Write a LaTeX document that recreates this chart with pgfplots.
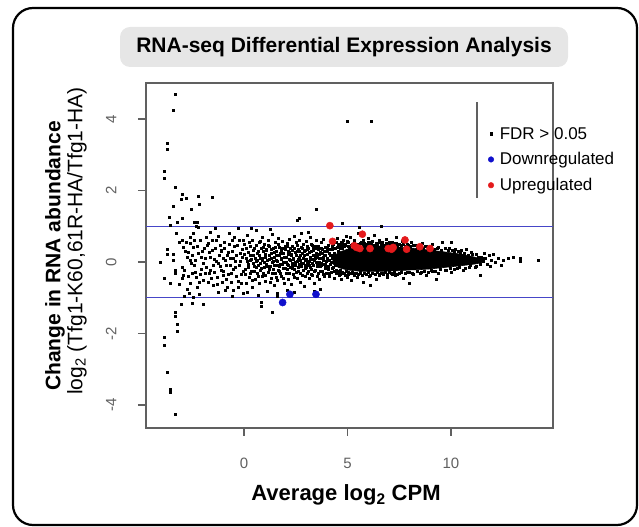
\documentclass[border=0pt]{standalone}
\usepackage{pgfplots}
\pgfplotsset{compat=1.18}
\usepackage{fontspec}
\setmainfont{Liberation Sans}
\definecolor{upred}{HTML}{E41A1C}
\definecolor{downblue}{HTML}{1010CC}
\definecolor{hline}{HTML}{4646C8}
\definecolor{axgray}{HTML}{606060}
\definecolor{titlegray}{HTML}{E6E6E6}
\begin{document}
\begin{tikzpicture}
\useasboundingbox (0,0) rectangle (639bp,527bp);
\draw[line width=2.2bp, rounded corners=20bp] (13bp,2bp) rectangle (637bp,519bp);
\node[fill=titlegray, rounded corners=10bp, minimum width=448bp, minimum height=40bp, inner sep=0pt] at (344bp,480bp) {\fontsize{21bp}{25bp}\selectfont\bfseries RNA-seq Differential Expression Analysis};
\node[rotate=90] at (55bp,271bp) {\fontsize{21bp}{25bp}\selectfont\bfseries Change in RNA abundance};
\node[rotate=90] at (77bp,286bp) {\fontsize{21bp}{25bp}\selectfont log\textsubscript{2} (Tfg1-K60,61R-HA/Tfg1-HA)};
\node at (346bp,32bp) {\fontsize{22bp}{26bp}\selectfont\bfseries Average log\textsubscript{2} CPM};
\begin{axis}[at={(146bp,99bp)}, anchor=south west, scale only axis,
  width=407bp, height=345bp,
  xmin=-4.73, xmax=14.93, ymin=-4.64, ymax=5.01,
  xtick={0,5,10}, xticklabels={0,5,10},
  ytick={-4,-2,0,2,4}, yticklabels={-4,-2,0,2,4},
  tick align=outside, tick pos=left, major tick length=8bp,
  axis line style={axgray, line width=1.3bp},
  tick style={axgray, line width=1.3bp},
  ticklabel style={font=\fontsize{15bp}{18bp}\selectfont, text=axgray},
  xticklabel style={yshift=-19bp},
  yticklabel style={xshift=-18bp, rotate=90, anchor=south},
  clip=false,
  legend style={at={(0.833,0.884)}, anchor=north west, draw=none, fill=none,
    font=\fontsize{17bp}{20bp}\selectfont, row sep=8bp, column sep=4bp},
  legend cell align=left,
]
\addlegendimage{only marks, mark=square*, mark size=1.2bp, black}
\addlegendentry{FDR > 0.05}
\addlegendimage{only marks, mark=*, mark size=2.8bp, downblue}
\addlegendentry{Downregulated}
\addlegendimage{only marks, mark=*, mark size=2.8bp, upred}
\addlegendentry{Upregulated}
% dense core of the cloud
\addplot[fill=black, draw=black, line width=0.6bp, forget plot] coordinates {
(4.3,0.15) (4.6,0.28) (5.0,0.36) (5.5,0.42) (6.0,0.44) (6.5,0.45) (7.0,0.44) (7.5,0.42) (8.0,0.40) (8.5,0.37) (9.0,0.33) (9.5,0.30) (10.0,0.26) (10.5,0.22) (11.0,0.16) (11.4,0.10) (11.6,0.05)
(11.6,0.0) (11.2,-0.05) (10.5,-0.10) (10.0,-0.13) (9.5,-0.16) (9.0,-0.19) (8.5,-0.21) (8.0,-0.22) (7.5,-0.24) (7.0,-0.25) (6.5,-0.26) (6.0,-0.26) (5.5,-0.25) (5.0,-0.22) (4.6,-0.16) (4.3,-0.05)
} -- cycle;
% FDR > 0.05 genes
\addplot[only marks, mark=square*, mark size=1.0bp, black, forget plot] coordinates {
(-3.30,4.70) (-3.41,4.25) (-3.69,3.33) (-3.69,3.16) (-3.85,2.55) (-3.85,2.34) (-3.30,2.09) (-2.96,1.90) (-3.01,1.76) (-2.80,1.78) (-2.21,1.85) (-1.51,1.81) (-2.16,1.62) (-3.41,1.56) (-2.56,1.48) (-3.61,1.25) (-2.96,1.22) (-3.20,1.11) (-3.54,1.03) (-2.40,1.11) (-2.24,1.11) (-2.32,1.00) (-2.20,0.98)
(-3.01,-1.17) (-2.50,-1.15) (-1.97,-1.17) (-2.45,-0.99) (-2.16,-0.90) (-3.30,-1.41) (-3.30,-1.50) (-3.22,-1.73) (-3.20,-1.94) (-3.85,-2.11) (-3.85,-2.32) (-3.69,-3.09) (-3.57,-3.55) (-3.57,-3.63) (-3.30,-4.25)
(0.85,-1.13) (0.85,-1.22) (1.39,-1.39) (3.48,1.48) (2.59,1.18) (2.67,1.22) (4.77,1.09) (5.57,0.97) (6.62,1.0) (5.0,3.95) (6.15,3.95)
(-4.06,0.01) (-3.69,0.36) (-3.69,0.22) (-3.44,0.22) (-3.57,-0.59) (-3.30,-0.22) (-3.30,-0.32) (-3.12,0.57) (-3.29,0.80) (-2.96,-0.13) (-2.93,-0.36) (-2.96,-0.45) (-2.72,-0.76) (-2.64,-0.86) (-2.61,0.71) (-2.45,0.80) (-2.61,0.52) (-2.45,0.43) (-2.61,0.06) (-2.53,-0.04) (-2.37,-0.27) (-2.32,-0.41) (-2.16,-0.55)
(-3.85,-0.45) (-3.40,0.05) (-3.15,-0.62) (-2.85,0.30) (-2.75,0.15) (-2.20,0.25) (-2.05,-0.20) (-3.00,0.62) (-2.40,-0.10) (-2.90,-0.95)
(-1.97,-0.04) (-1.80,0.71) (-1.72,0.52) (-1.64,0.15) (-1.61,-0.22) (-1.72,-0.55) (-1.48,-0.64) (-1.40,0.94) (-1.16,0.48) (-1.08,0.34) (-1.24,-0.04) (-1.00,-0.36) (-0.81,-0.69) (-0.92,-0.78) (-0.68,-0.08) (-0.52,0.10) (-0.59,0.62) (-0.30,0.94) (-0.52,-0.78) (-0.28,-0.69) (-2.08,0.15)
(-1.90,0.38) (-1.85,-0.32) (-1.55,0.32) (-1.50,-0.10) (-1.35,0.60) (-1.30,-0.42) (-1.20,0.18) (-1.10,-0.22) (-0.95,0.55) (-0.90,0.05) (-0.85,-0.48) (-0.75,0.28) (-0.70,0.80) (-0.62,-0.30) (-0.45,0.45) (-0.40,-0.15) (-0.38,0.20) (-0.30,-0.52) (-0.22,0.62) (-0.18,0.02) (-0.12,-0.35) (-0.08,0.35) (-0.05,-0.88) (-1.65,0.85) (-1.25,-0.85) (-0.55,-0.95)
(-2.95,0.42) (-2.88,-0.22) (-2.80,0.55) (-2.70,-0.40) (-2.68,0.28) (-2.58,-0.60) (-2.50,0.20) (-2.48,-0.30) (-2.42,0.62) (-2.35,0.05) (-2.28,-0.70) (-2.25,0.45) (-2.12,-0.35) (-2.10,0.60) (-2.00,0.30) (-1.95,-0.50) (-1.88,0.10) (-1.82,-0.15) (-1.78,0.48) (-1.70,-0.30) (-1.66,0.28) (-1.58,-0.45) (-1.52,0.60) (-1.45,0.08) (-1.42,-0.28) (-1.38,0.38) (-1.32,0.02) (-1.28,-0.62) (-1.22,0.72) (-1.15,-0.12) (-1.12,0.30) (-1.05,-0.55) (-1.02,0.10) (-0.98,-0.25) (-0.95,0.38) (-0.88,-0.10) (-0.82,0.20) (-0.78,-0.35) (-0.72,0.50) (-0.65,0.10) (-0.60,-0.55) (-0.56,0.30) (-0.50,-0.20) (-0.46,0.70) (-0.42,0.02) (-0.35,-0.40) (-0.33,0.48) (-0.25,-0.10) (-0.20,0.25) (-0.15,-0.60) (-0.10,0.15) (-0.05,-0.25) (-0.02,0.60)
(0.02,0.50) (0.05,-0.20) (0.10,0.12) (0.12,-0.60) (0.15,0.75) (0.20,0.28) (0.22,-0.05) (0.25,-0.42) (0.30,0.45) (0.32,0.05) (0.35,-0.25) (0.40,0.62) (0.42,-0.70) (0.45,0.18) (0.48,-0.12) (0.52,0.38) (0.55,-0.48) (0.58,0.02) (0.60,0.88) (0.63,-0.30) (0.66,0.25) (0.70,-0.08) (0.72,0.55) (0.75,-0.60) (0.78,0.12) (0.80,-0.22) (0.83,0.40) (0.86,0.70) (0.88,-0.40) (0.90,0.05) (0.93,0.30) (0.96,-0.15) (1.00,0.50) (1.02,-0.52) (1.05,0.15) (1.08,-0.05) (1.10,0.35) (1.12,-0.80) (1.15,0.62) (1.18,-0.28) (1.20,0.08) (1.23,0.45) (1.26,-0.12) (1.30,0.25) (1.32,-0.45) (1.35,0.78) (1.38,0.00) (1.40,-0.20) (1.42,0.40) (1.45,-0.65) (1.48,0.15) (1.50,0.55) (1.52,-0.32) (1.55,0.05) (1.58,0.30) (1.60,-0.10) (1.62,-0.50) (1.65,0.68) (1.68,0.20) (1.70,-0.25) (1.72,0.42) (1.75,-0.05) (1.78,0.10) (1.80,-0.40) (1.82,0.32) (1.85,0.58) (1.88,-0.18) (1.90,0.00) (1.92,0.25) (1.95,-0.60) (1.98,0.45) (0.35,0.95) (0.68,-0.92) (1.25,0.92) (1.60,-0.88) (0.15,-0.85)
(0.03,0.22) (0.08,-0.35) (0.12,0.40) (0.17,0.02) (0.20,-0.15) (0.24,0.55) (0.28,-0.30) (0.31,0.20) (0.36,0.08) (0.38,-0.50) (0.43,0.32) (0.46,-0.02) (0.50,-0.25) (0.53,0.12) (0.57,0.48) (0.61,-0.15) (0.64,0.05) (0.68,0.30) (0.71,-0.40) (0.74,0.20) (0.77,-0.02) (0.81,0.58) (0.84,-0.18) (0.87,0.12) (0.91,-0.30) (0.94,0.42) (0.98,0.00) (1.01,0.22) (1.04,-0.38) (1.07,0.32) (1.11,-0.12) (1.14,0.05) (1.17,0.48) (1.21,-0.20) (1.24,0.18) (1.27,-0.55) (1.31,0.10) (1.34,0.35) (1.36,-0.30) (1.41,0.02) (1.44,0.28) (1.46,-0.08) (1.51,0.42) (1.54,-0.42) (1.57,0.18) (1.61,0.02) (1.64,-0.22) (1.67,0.50) (1.71,-0.12) (1.74,0.25) (1.77,-0.30) (1.81,0.08) (1.84,0.40) (1.87,-0.05) (1.91,-0.45) (1.94,0.15) (1.97,-0.18)
(2.02,0.15) (2.05,-0.30) (2.08,0.52) (2.10,-0.05) (2.12,0.30) (2.15,-0.48) (2.18,0.08) (2.20,0.65) (2.22,-0.15) (2.25,0.38) (2.28,-0.62) (2.30,0.20) (2.32,-0.02) (2.35,0.45) (2.38,-0.35) (2.40,0.10) (2.42,0.72) (2.45,-0.20) (2.48,0.28) (2.50,-0.08) (2.52,0.55) (2.55,-0.45) (2.58,0.02) (2.60,0.35) (2.62,-0.25) (2.65,0.15) (2.68,0.62) (2.70,-0.55) (2.72,0.05) (2.75,0.42) (2.78,-0.12) (2.80,0.25) (2.82,-0.38) (2.85,0.50) (2.88,-0.02) (2.90,0.18) (2.92,-0.68) (2.95,0.32) (2.98,-0.18) (3.00,0.08) (3.02,0.58) (3.05,-0.30) (3.08,0.22) (3.10,-0.05) (3.12,0.40) (3.15,-0.45) (3.18,0.12) (3.20,0.70) (3.22,-0.15) (3.25,0.30) (3.28,-0.02) (3.30,0.48) (3.32,-0.38) (3.35,0.18) (3.38,-0.58) (3.40,0.05) (3.42,0.38) (3.45,-0.22) (3.48,0.25) (3.50,0.60) (3.52,-0.08) (3.55,0.15) (3.58,-0.32) (3.60,0.45) (3.62,0.00) (3.65,-0.48) (3.68,0.28) (3.70,-0.12) (3.72,0.55) (3.75,0.10) (3.78,-0.25) (3.80,0.35) (3.82,-0.05) (3.85,0.65) (3.88,-0.40) (3.90,0.20) (3.92,-0.18) (3.95,0.42) (3.98,0.02)
(2.15,0.22) (2.35,-0.10) (2.55,0.30) (2.65,-0.05) (2.85,0.12) (2.95,-0.08) (3.05,0.35) (3.15,0.02) (3.25,-0.20) (3.35,0.40) (3.45,0.10) (3.55,-0.12) (3.65,0.22) (3.75,-0.02) (3.85,0.15) (3.95,-0.10) (2.45,-0.85) (3.10,0.85) (3.70,-0.75) (2.75,0.82) (2.08,-0.78) (3.40,-0.80) (1.60,-0.95)
(2.01,0.35) (2.04,0.00) (2.07,-0.20) (2.11,0.45) (2.14,-0.10) (2.17,0.28) (2.21,-0.32) (2.24,0.05) (2.27,0.22) (2.31,-0.18) (2.34,0.32) (2.37,0.08) (2.41,-0.42) (2.44,0.40) (2.47,0.00) (2.51,0.18) (2.54,-0.28) (2.57,0.48) (2.61,0.08) (2.64,-0.15) (2.67,0.30) (2.71,-0.30) (2.74,0.20) (2.77,-0.02) (2.81,0.40) (2.84,-0.22) (2.87,0.10) (2.91,0.30) (2.94,-0.40) (2.97,0.05) (3.01,-0.15) (3.04,0.45) (3.07,0.00) (3.11,-0.25) (3.14,0.28) (3.17,-0.08) (3.21,0.15) (3.24,0.50) (3.27,-0.35) (3.31,0.08) (3.34,-0.10) (3.37,0.32) (3.41,-0.25) (3.44,0.45) (3.47,0.00) (3.51,0.20) (3.54,-0.40) (3.57,0.35) (3.61,-0.05) (3.64,0.12) (3.67,-0.25) (3.71,0.40) (3.74,-0.10) (3.77,0.25) (3.81,-0.35) (3.84,0.05) (3.87,0.30) (3.91,-0.05) (3.94,0.18) (3.97,-0.30)
(4.02,0.30) (4.05,-0.20) (4.08,0.48) (4.10,0.05) (4.12,-0.40) (4.15,0.20) (4.18,-0.05) (4.20,0.60) (4.22,-0.28) (4.25,0.35) (4.28,0.10) (4.30,-0.15) (4.32,0.50) (4.35,-0.45) (4.38,0.25) (4.40,0.00) (4.42,0.40) (4.45,-0.30) (4.48,0.15) (4.50,0.68) (4.52,-0.10) (4.55,0.30) (4.58,-0.38) (4.60,0.45) (4.62,0.05) (4.65,-0.22) (4.68,0.55) (4.70,0.20) (4.72,-0.48) (4.75,0.38) (4.78,-0.05) (4.80,0.62) (4.82,0.12) (4.85,-0.32) (4.88,0.48) (4.90,-0.15) (4.92,0.28) (4.95,0.72) (4.98,-0.42)
(4.01,0.10) (4.04,0.40) (4.07,-0.12) (4.11,0.25) (4.14,-0.30) (4.17,0.35) (4.21,0.00) (4.24,-0.18) (4.27,0.45) (4.31,0.20) (4.34,-0.25) (4.37,0.38) (4.41,-0.10) (4.44,0.55) (4.47,-0.22) (4.51,0.42) (4.54,-0.30) (4.57,0.50) (4.61,-0.25) (4.64,0.40) (4.67,-0.35) (4.71,0.48) (4.74,-0.28) (4.77,0.52) (4.81,-0.30) (4.84,0.45) (4.87,-0.38) (4.91,0.50) (4.94,-0.25) (4.97,0.58)
(5.05,0.55) (5.15,0.70) (5.25,0.50) (5.35,0.62) (5.50,0.82) (5.60,0.52) (5.75,0.60) (5.85,0.50) (6.00,0.68) (6.15,0.55) (6.30,0.75) (6.45,0.52) (6.55,0.60) (6.70,0.50) (6.85,0.65) (7.00,0.55) (7.20,0.52) (7.35,0.70) (7.50,0.50) (7.65,0.58) (7.90,0.50) (8.10,0.55) (8.30,0.48) (8.60,0.52) (8.80,0.45) (9.10,0.50) (9.40,0.42) (9.60,0.55) (9.90,0.40) (10.20,0.36) (10.50,0.32) (10.76,0.36) (10.03,0.55) (11.00,0.28) (11.20,0.22)
(5.02,0.45) (5.10,0.40) (5.18,0.48) (5.26,0.44) (5.34,0.52) (5.42,0.46) (5.50,0.50) (5.58,0.45) (5.66,0.55) (5.74,0.47) (5.82,0.52) (5.90,0.48) (5.98,0.56) (6.06,0.47) (6.14,0.50) (6.22,0.58) (6.30,0.48) (6.38,0.53) (6.46,0.49) (6.54,0.55) (6.62,0.48) (6.70,0.56) (6.78,0.47) (6.86,0.52) (6.94,0.49) (7.02,0.50) (7.10,0.47) (7.18,0.55) (7.26,0.46) (7.34,0.52) (7.42,0.47) (7.60,0.46) (7.70,0.50) (7.80,0.44) (7.95,0.47) (8.05,0.44) (8.20,0.48) (8.35,0.42) (8.45,0.46) (8.65,0.40) (8.75,0.44) (8.95,0.38) (9.05,0.42) (9.20,0.36) (9.35,0.40) (9.55,0.34) (9.70,0.38) (9.85,0.32) (10.05,0.34) (10.15,0.28) (10.35,0.30) (10.45,0.25) (10.65,0.26) (10.85,0.20) (11.05,0.22) (11.30,0.15) (11.50,0.12)
(5.05,-0.35) (5.20,-0.50) (5.30,-0.32) (5.45,-0.42) (5.60,-0.30) (5.75,-0.55) (5.90,-0.35) (6.05,-0.40) (6.20,-0.32) (6.40,-0.48) (6.55,-0.35) (6.75,-0.30) (6.90,-0.42) (7.10,-0.32) (7.30,-0.38) (7.50,-0.30) (7.70,-0.45) (7.90,-0.28) (8.20,-0.35) (8.50,-0.30) (8.80,-0.38) (9.10,-0.25) (9.40,-0.30) (9.70,-0.22) (10.00,-0.28) (10.30,-0.18) (10.60,-0.22) (10.90,-0.15) (11.40,-0.38) (11.20,-0.12) (6.10,-0.65) (8.00,-0.58) (9.30,-0.48)
(5.02,-0.28) (5.12,-0.32) (5.22,-0.27) (5.32,-0.36) (5.42,-0.30) (5.52,-0.34) (5.62,-0.28) (5.72,-0.36) (5.82,-0.30) (5.92,-0.33) (6.02,-0.29) (6.12,-0.36) (6.22,-0.30) (6.32,-0.34) (6.42,-0.29) (6.52,-0.38) (6.62,-0.30) (6.72,-0.33) (6.82,-0.28) (6.92,-0.35) (7.02,-0.29) (7.15,-0.33) (7.25,-0.28) (7.40,-0.33) (7.60,-0.28) (7.80,-0.32) (8.00,-0.27) (8.15,-0.30) (8.35,-0.26) (8.55,-0.29) (8.70,-0.25) (8.90,-0.28) (9.05,-0.22) (9.25,-0.25) (9.50,-0.21) (9.75,-0.24) (9.95,-0.18) (10.15,-0.21) (10.40,-0.15) (10.70,-0.17) (10.95,-0.10) (11.15,-0.13) (11.40,-0.06)
(11.45,0.15) (11.55,0.02) (11.65,0.10) (11.75,-0.05) (11.85,0.18) (11.95,0.05) (12.04,0.22) (12.15,0.00) (12.30,0.12) (12.53,0.04) (12.77,0.10) (13.01,0.13) (13.33,0.10) (13.33,0.03) (14.22,0.06) (12.45,-0.08) (11.60,0.25) (11.90,-0.12)
};
% thresholds
\addplot[hline, line width=1bp, forget plot] coordinates {(-4.73,1) (14.93,1)};
\addplot[hline, line width=1bp, forget plot] coordinates {(-4.73,-1) (14.93,-1)};
% significant genes
\addplot[only marks, mark=*, mark size=3.6bp, downblue, forget plot] coordinates {
(2.22,-0.90) (1.87,-1.13) (3.48,-0.90)
};
\addplot[only marks, mark=*, mark size=3.6bp, upred, forget plot] coordinates {
(4.15,1.02) (4.28,0.58) (5.72,0.78) (5.33,0.46) (5.44,0.41) (5.60,0.38) (6.09,0.38) (6.97,0.38) (7.13,0.36) (7.21,0.41) (7.78,0.62) (7.86,0.36) (8.50,0.43) (8.99,0.38)
};
% legend frame line
\draw[axgray, line width=1.3bp] (rel axis cs:0.8133,0.6667) -- (rel axis cs:0.8133,0.9449);
\end{axis}
\end{tikzpicture}
\end{document}
